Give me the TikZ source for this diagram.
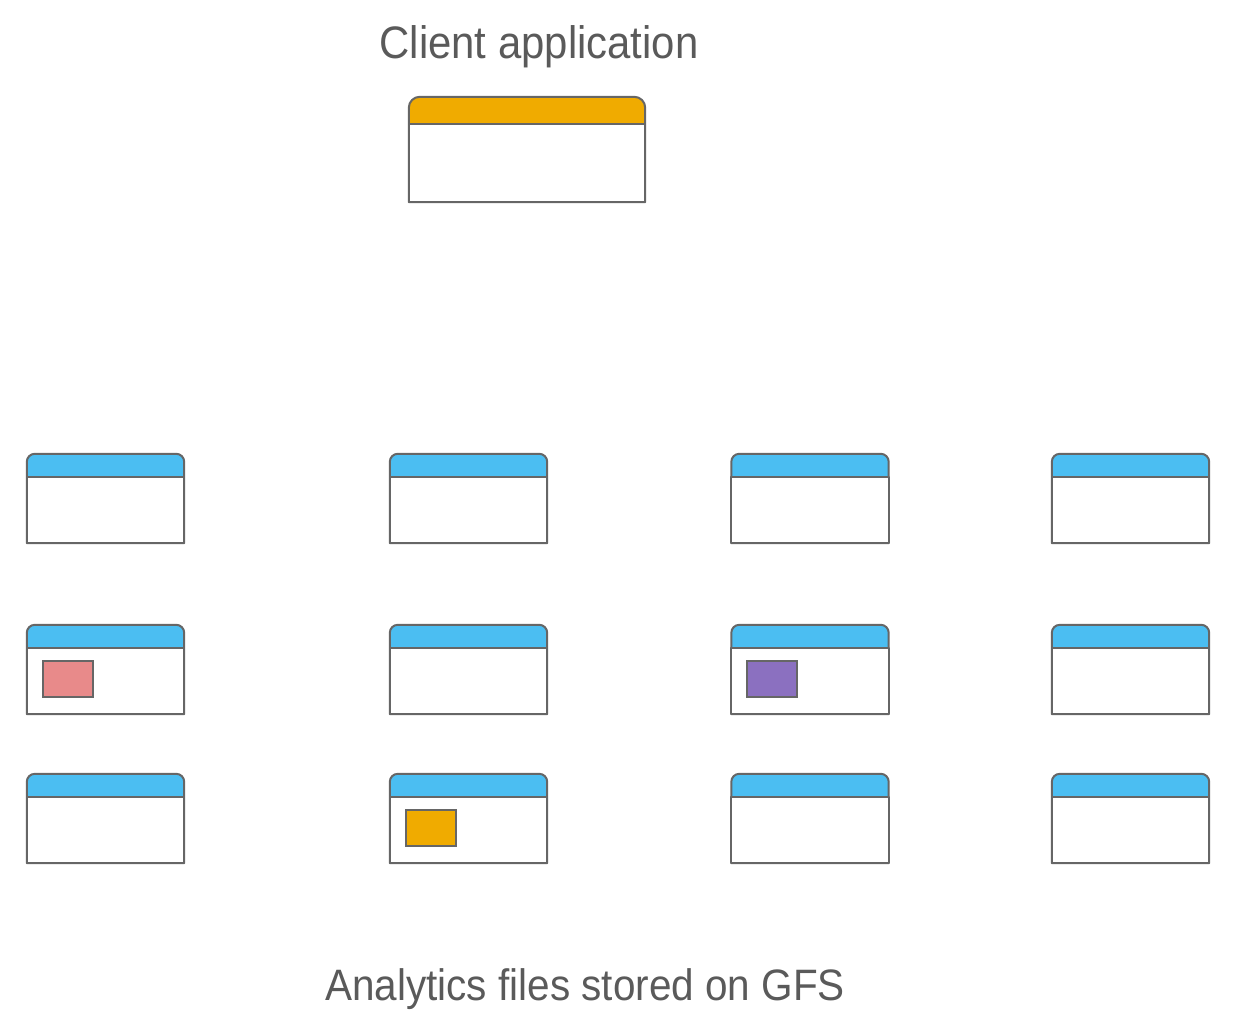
\documentclass[tikz,border=0pt]{standalone}
\usepackage{fontspec}
\setmainfont{Liberation Sans}[FakeStretch=0.92]
\usetikzlibrary{positioning}

\definecolor{frame}{HTML}{666666}
\definecolor{barblue}{HTML}{4BBEF2}
\definecolor{barorange}{HTML}{F0AB00}
\definecolor{textgray}{HTML}{5A5A5A}
\definecolor{filepink}{HTML}{E88A8A}
\definecolor{filepurple}{HTML}{8B70C0}
\definecolor{fileyellow}{HTML}{F0AB00}

\tikzset{
  winline/.style={draw=frame, line width=2pt, line join=round},
  win/.style={inner sep=0pt, minimum width=157pt, minimum height=89pt},
  clientwin/.style={inner sep=0pt, minimum width=236pt, minimum height=105pt},
  filemark/.style={draw=frame, line width=2pt, inner sep=0pt,
                   minimum width=50pt, minimum height=36pt},
  title/.style={text=textgray, inner sep=0pt, anchor=base,
                font=\fontsize{44}{50}\selectfont}
}

% window: node, bar colour, bar height, corner radius
\newcommand\drawwindow[4]{%
  \draw[winline, fill=#2] (#1.south west)
     -- ([yshift=-#4]#1.north west) arc[start angle=180, end angle=90, radius=#4]
     -- ([xshift=-#4]#1.north east) arc[start angle=90, end angle=0, radius=#4]
     -- (#1.south east) -- cycle;
  \draw[winline, fill=white] ([yshift=-#3]#1.north west) rectangle (#1.south east);
}

\begin{document}
\begin{tikzpicture}[x=1pt, y=-1pt]
   \useasboundingbox (0,0) rectangle (1244,1027);

   % client
   \node[title, font=\fontsize{45.5}{50}\selectfont] (client label) at (539,59) {Client application};
   \node[clientwin] (client) at (527,149.5) {};
   \drawwindow{client}{barorange}{27pt}{11pt}

   % chunk servers
   \foreach \x [count=\c] in {105.5,468.5,810,1130.5}
     \foreach \y [count=\r] in {498.5,669.5,818.5} {
       \node[win] (w-\r-\c) at (\x,\y) {};
       \drawwindow{w-\r-\c}{barblue}{23pt}{8pt}
     }

   % files
   \node[filemark, fill=filepink, below right=35pt and 15pt of w-2-1.north west] (file a) {};
   \node[filemark, fill=filepurple, below right=35pt and 15pt of w-2-3.north west] (file b) {};
   \node[filemark, fill=fileyellow, below right=35pt and 15pt of w-3-2.north west] (file c) {};

   \node[title] (gfs label) at (585,1000) {Analytics files stored on GFS};
\end{tikzpicture}
\end{document}
